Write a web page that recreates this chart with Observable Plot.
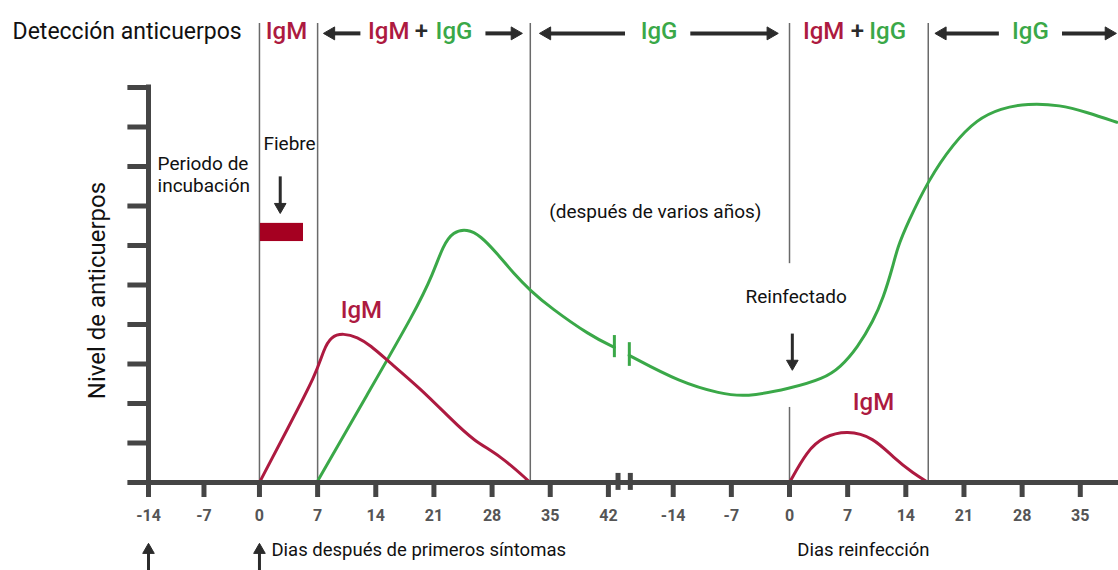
<!DOCTYPE html>
<html>
<head>
<meta charset="utf-8">
<script src="https://cdn.jsdelivr.net/npm/d3@7"></script>
<script src="https://cdn.jsdelivr.net/npm/@observablehq/plot@0.6"></script>
<style>
  html, body { margin: 0; padding: 0; background: #fff; }
  #chart svg { display: block; }
</style>
</head>
<body>
<div id="chart"></div>
<script>
// ---- Data ----
const R = 63.8; // axis position of reinfection day 0 (after the axis break)
const firstTicks = [-14, -7, 0, 7, 14, 21, 28, 35, 42];
const secondTicks = [-14, -7, 0, 7, 14, 21, 28, 35];

// primary infection (days after first symptoms)
const igm1Day   = [0, 3.43, 6.86, 7.7, 8.6, 10.1, 11.8, 13.36, 15.4, 19.37, 22.98, 25.75, 29.0, 32.6];
const igm1Level = [0, 1.38, 2.76, 3.35, 3.7, 3.78, 3.68, 3.47, 3.09, 2.38, 1.62, 1.06, 0.68, 0];
const igg1Day   = [6.9, 12.9, 18.8, 20.9, 22.1, 23.3, 25.0, 26.6, 28.6, 30.6, 32.6, 35.0, 39.8, 42.72];
const igg1Level = [0, 2.2, 4.35, 5.29, 6.0, 6.35, 6.42, 6.25, 5.8, 5.29, 4.86, 4.43, 3.72, 3.42];

// reinfection (days after reinfection)
const igg2Day   = [-19.3, -13.1, -8.3, -5.3, 0.1, 4.1, 6.1, 8.2, 10.1, 11.3, 12.4, 13.0, 14.2, 16.7, 19.7, 22.6, 25.4, 28.6, 32.6, 35.8, 39.4];
const igg2Level = [3.22, 2.53, 2.25, 2.16, 2.38, 2.63, 2.91, 3.42, 4.1, 4.68, 5.44, 5.95, 6.56, 7.65, 8.58, 9.2, 9.47, 9.6, 9.56, 9.37, 9.12];
const igm2Day   = [0, 2.14, 4.07, 6.96, 10.09, 12.5, 14.9, 16.7];
const igm2Level = [0, 0.81, 1.16, 1.32, 1.14, 0.63, 0.23, 0];

const phaseFirst = [0, 7, 32.6];
const phaseReinf = [16.7];
const yTicks = [1, 2, 3, 4, 5, 6, 7, 8, 9, 10];

// the incubation stretch (before day 0) is drawn slightly compressed, as in the original
const PRE = 0.954;

// ---- Styles ----
const RED = "#ad1a40";
const GREEN = "#3aa848";
const AX = "#454545";
const DARK = "#2b2b2b";
const CURVE = "basis";

const igm1 = igm1Day.map((d, i) => ({x: d, y: igm1Level[i]}));
const igg1 = igg1Day.map((d, i) => ({x: d, y: igg1Level[i]}));
const igg2 = igg2Day.map((d, i) => ({x: d + R, y: igg2Level[i]}));
const igm2 = igm2Day.map((d, i) => ({x: d + R, y: igm2Level[i]}));
const ticks = [
  ...firstTicks.map(d => ({x: d, label: String(d)})),
  ...secondTicks.map(d => ({x: d + R, label: String(d)}))
];

// header arrows (shaft start -> tip), in axis days
const YH = 11.37;
const topArrows = [
  {from: 12.15, tip: 7.7}, {from: 27.2, tip: 31.65},
  {from: 44.0, tip: 33.7}, {from: 51.86, tip: 62.45},
  {from: 89.0, tip: 81.3}, {from: 96.6, tip: 103.15}
].map(a => {
  const s = a.from > a.tip ? 1 : -1;
  return {from: a.from, head: a.tip + s * 0.9, rot: s > 0 ? -90 : 90};
});
// vertical arrows (x, shaft start level, tip level)
const vArrows = [
  {x: -14, from: -2.3, tip: -1.54},
  {x: 0, from: -2.3, tip: -1.54},
  {x: 2.5, from: 7.75, tip: 6.81},
  {x: R + 0.34, from: 3.77, tip: 2.84}
].map(a => {
  const s = a.from > a.tip ? 1 : -1;
  return {x: a.x, from: a.from, head: a.tip + s * 0.17, rot: s > 0 ? 180 : 0};
});

const YTOP = 11.62;
const plot = Plot.plot({
  width: 1118,
  height: 570,
  marginLeft: 148,
  marginRight: 0,
  marginTop: 87,
  marginBottom: 88,
  x: {transform: d => (d < 0 ? d * PRE : d), domain: [-14 * PRE, 103.4], axis: null},
  y: {domain: [0, 10], axis: null},
  style: {fontFamily: "Roboto, sans-serif", background: "#fff", overflow: "visible"},
  marks: [
    // phase separators
    Plot.ruleX([...phaseFirst, ...phaseReinf.map(d => d + R)], {x: d => d, y1: 0, y2: YTOP, stroke: "#6a6a6a", strokeWidth: 1.5}),
    Plot.ruleX([R], {x: d => d, y1: 0, y2: 1.9, stroke: "#6a6a6a", strokeWidth: 1.5}),
    Plot.ruleX([R], {x: d => d, y1: 5.54, y2: YTOP, stroke: "#6a6a6a", strokeWidth: 1.5}),

    // curves
    Plot.line(igg1, {x: "x", y: "y", curve: CURVE, stroke: GREEN, strokeWidth: 3}),
    Plot.line(igg2, {x: "x", y: "y", curve: CURVE, stroke: GREEN, strokeWidth: 3}),
    Plot.line(igm1, {x: "x", y: "y", curve: CURVE, stroke: RED, strokeWidth: 3}),
    Plot.line(igm2, {x: "x", y: "y", curve: CURVE, stroke: RED, strokeWidth: 3}),
    // break marks on IgG curve
    Plot.ruleX([{x: 42.72, a: 3.16, b: 3.72}, {x: 44.52, a: 2.94, b: 3.54}], {x: "x", y1: "a", y2: "b", stroke: GREEN, strokeWidth: 3}),

    // axes
    Plot.ruleX([-14], {x: d => d, y1: 0, y2: 10, stroke: AX, strokeWidth: 5, strokeLinecap: "square"}),
    Plot.ruleY(yTicks, {y: d => d, x1: -16.6, x2: -14, stroke: AX, strokeWidth: 5}),
    Plot.ruleY([0], {y: d => d, x1: -16.6, x2: 103.4, stroke: AX, strokeWidth: 5}),
    Plot.ruleX(ticks, {x: "x", y1: 0, y2: -0.38, stroke: AX, strokeWidth: 5}),
    Plot.ruleX([43.16, 44.64], {x: d => d, y1: -0.2, y2: 0.23, stroke: AX, strokeWidth: 5}),
    Plot.text(ticks, {x: "x", y: -0.85, text: "label", fill: "#555", fontWeight: "bold", fontSize: 16}),

    // header row
    Plot.text([{x: -31.15, y: 11.42, t: "Detección anticuerpos"}], {x: "x", y: "y", text: "t", textAnchor: "start", fontSize: 23, fill: "#111"}),
    Plot.text([{x: 3.25, t: "IgM", c: RED}, {x: 19.5, t: "+", c: DARK}, {x: 48.1, t: "IgG", c: GREEN}, {x: 71.96, t: "+", c: DARK}, {x: 92.8, t: "IgG", c: GREEN}],
      {x: "x", y: 11.42, text: "t", fill: "c", textAnchor: "middle", fontSize: 24, fontWeight: 500}),
    Plot.text([{x: 18.05}, {x: 70.4}], {x: "x", y: 11.42, text: () => "IgM", fill: RED, textAnchor: "end", fontSize: 24, fontWeight: 500}),
    Plot.text([{x: 21.2}, {x: 73.4}], {x: "x", y: 11.42, text: () => "IgG", fill: GREEN, textAnchor: "start", fontSize: 24, fontWeight: 500}),
    Plot.link(topArrows, {x1: "from", x2: "head", y1: YH, y2: YH, stroke: DARK, strokeWidth: 4}),
    Plot.dot(topArrows, {x: "head", y: YH, symbol: "triangle", r: 4.8, fill: DARK, stroke: DARK, strokeWidth: 1, rotate: "rot"}),

    // vertical arrows
    Plot.link(vArrows, {x1: "x", x2: "x", y1: "from", y2: "head", stroke: DARK, strokeWidth: 3}),
    Plot.dot(vArrows, {x: "x", y: "head", symbol: "triangle", r: 4.3, fill: DARK, stroke: DARK, strokeWidth: 1, rotate: "rot"}),

    // bottom captions
    Plot.text([{x: 1.44, y: -1.70, t: "Dias después de primeros síntomas"}, {x: R + 0.94, y: -1.70, t: "Dias reinfección"}],
      {x: "x", y: "y", text: "t", textAnchor: "start", fontSize: 18.5, fill: "#111"}),

    // y axis title
    Plot.text([{x: -20.4, y: 4.86, t: "Nivel de anticuerpos"}], {x: "x", y: "y", text: "t", rotate: -90, fontSize: 24, fill: "#111"}),

    // annotations
    Plot.text([{x: -12.86, y: 7.82, t: "Periodo de\nincubación"}], {x: "x", y: "y", text: "t", textAnchor: "start", fontSize: 19, lineHeight: 1.16, fill: "#111"}),
    Plot.text([{x: 0.48, y: 8.58, t: "Fiebre"}], {x: "x", y: "y", text: "t", textAnchor: "start", fontSize: 19, fill: "#111"}),
    Plot.rect([{x1: 0.12, x2: 5.3, y1: 6.1, y2: 6.56}], {x1: "x1", x2: "x2", y1: "y1", y2: "y2", fill: "#a50021"}),
    Plot.text([{x: 47.65, y: 6.84, t: "(después de varios años)"}], {x: "x", y: "y", text: "t", fontSize: 19, fill: "#111"}),
    Plot.text([{x: 58.5, y: 4.71, t: "Reinfectado"}], {x: "x", y: "y", text: "t", textAnchor: "start", fontSize: 19, fill: "#111"}),
    Plot.text([{x: 12.27, y: 4.35, t: "IgM"}, {x: 73.9, y: 2.03, t: "IgM"}], {x: "x", y: "y", text: "t", fill: RED, fontSize: 24, fontWeight: 500})
  ]
});
document.getElementById("chart").appendChild(plot);
</script>
</body>
</html>
